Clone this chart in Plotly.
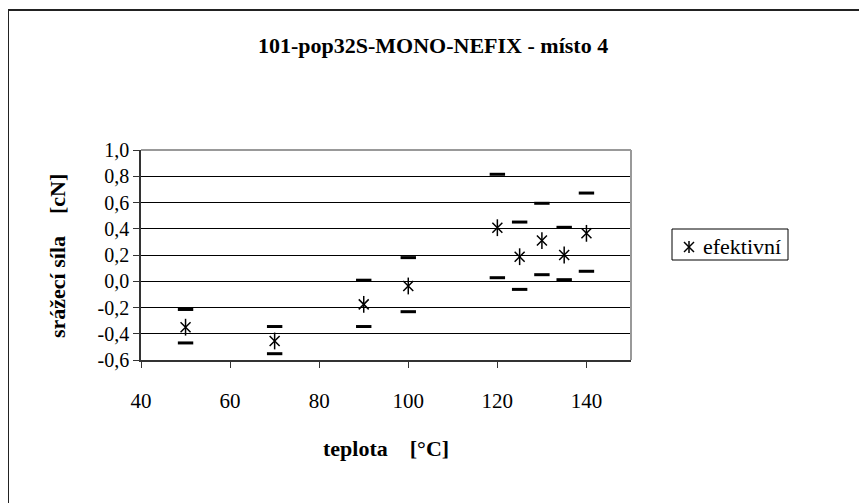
import plotly.graph_objects as go

# data
teplota = [50, 70, 90, 100, 120, 125, 130, 135, 140]
efektivni = [-0.35, -0.455, -0.176, -0.036, 0.408, 0.187, 0.31, 0.20, 0.365]
horni = [-0.215, -0.345, 0.008, 0.18, 0.815, 0.451, 0.594, 0.411, 0.672]
dolni = [-0.47, -0.552, -0.345, -0.232, 0.027, -0.062, 0.05, 0.012, 0.076]

x_ticks = [40, 60, 80, 100, 120, 140]
y_ticks = [-0.6, -0.4, -0.2, 0.0, 0.2, 0.4, 0.6, 0.8, 1.0]
y_ticklabels = ["-0,6", "-0,4", "-0,2", "0,0", "0,2", "0,4", "0,6", "0,8", "1,0"]

title_text = "101-pop32S-MONO-NEFIX - místo 4"
x_title = "teplota&nbsp;&nbsp;&nbsp;&nbsp;[°C]"
y_title = "srážecí síla&nbsp;&nbsp;&nbsp;&nbsp;[cN]"
legend_text = "efektivní"

W, H = 867, 503
OFF = 8  # page body margin
L, R, T, B = 141, 631, 150, 360  # plot area in screen pixels

def px(xp):
    return (xp - L) / (R - L)

def py(yp):
    return (B - yp) / (B - T)

serif = "Liberation Serif"

fig = go.Figure()
fig.add_trace(go.Scatter(x=teplota, y=horni, mode="markers", showlegend=False,
                         marker=dict(symbol="line-ew-open", size=11, color="black",
                                     line=dict(color="black", width=3))))
fig.add_trace(go.Scatter(x=teplota, y=dolni, mode="markers", showlegend=False,
                         marker=dict(symbol="line-ew-open", size=11, color="black",
                                     line=dict(color="black", width=3))))
fig.add_trace(go.Scatter(x=teplota, y=efektivni, mode="markers", showlegend=False,
                         marker=dict(symbol="line-ns-open", size=12, color="black",
                                     line=dict(color="black", width=1.5))))
fig.add_trace(go.Scatter(x=teplota, y=efektivni, mode="markers", name=legend_text, showlegend=False,
                         marker=dict(symbol="x-thin-open", size=10, color="black",
                                     line=dict(color="black", width=1.5))))

def pl(x0, y0, x1, y1, color="black", width=1.5):
    return dict(type="line", xref="paper", yref="paper", x0=px(x0), x1=px(x1), y0=py(y0), y1=py(y1),
                line=dict(color=color, width=width))

lx, ly = 689, 247
shapes = [
    # outer chart border (left and top, extends off canvas)
    pl(8, 10, 8, 520, "#222", 2),
    pl(8, 10, 880, 10, "#222", 2),
    # plot area border top/right (gray)
    dict(type="line", xref="paper", yref="paper", x0=0, x1=1, y0=1, y1=1, line=dict(color="#999", width=2)),
    dict(type="line", xref="paper", yref="paper", x0=1, x1=1, y0=0, y1=1, line=dict(color="#999", width=2)),
    # legend box
    dict(type="rect", xref="paper", yref="paper", x0=px(672), x1=px(788), y0=py(229), y1=py(260),
         line=dict(color="black", width=1), fillcolor="white", layer="above"),
    # legend asterisk
    pl(lx - 5, ly - 5, lx + 5, ly + 5, "black", 1.5),
    pl(lx - 5, ly + 5, lx + 5, ly - 5, "black", 1.5),
    pl(lx, ly - 6, lx, ly + 6, "black", 1.5),
]

annotations = [
    dict(text="<b>" + title_text + "</b>", xref="paper", yref="paper", x=px(433), y=py(45),
         showarrow=False, font=dict(family=serif, size=22, color="black"), xanchor="center", yanchor="middle"),
    dict(text="<b>" + x_title + "</b>", xref="paper", yref="paper", x=px(386), y=py(448),
         showarrow=False, font=dict(family=serif, size=22, color="black"), xanchor="center", yanchor="middle"),
    dict(text="<b>" + y_title + "</b>", xref="paper", yref="paper", x=px(57), y=py(256),
         showarrow=False, textangle=-90, font=dict(family=serif, size=22, color="black"),
         xanchor="center", yanchor="middle"),
    dict(text=legend_text, xref="paper", yref="paper", x=px(701), y=py(246),
         showarrow=False, font=dict(family=serif, size=22, color="black"), xanchor="left", yanchor="middle"),
]

fig.update_layout(
    width=W, height=H,
    margin=dict(l=L - OFF, r=W - (R - OFF), t=T - OFF, b=H - (B - OFF), pad=0),
    paper_bgcolor="white", plot_bgcolor="white",
    showlegend=False,
    shapes=shapes,
    annotations=annotations,
    font=dict(family=serif, size=20, color="black"),
)
fig.update_xaxes(range=[40, 150], tickvals=x_ticks, ticks="outside", ticklen=6, tickcolor="#333",
                 showline=True, linecolor="#333", linewidth=1.5, showgrid=False, zeroline=False,
                 ticklabelstandoff=15,
                 tickfont=dict(family=serif, size=21, color="black"), fixedrange=True)
fig.update_yaxes(range=[-0.6, 1.0], tickvals=y_ticks, ticktext=y_ticklabels, ticks="outside", ticklen=6,
                 tickcolor="#333", showline=True, linecolor="#333", linewidth=1.5,
                 showgrid=True, gridcolor="black", gridwidth=1, zeroline=False,
                 tickfont=dict(family=serif, size=20, color="black"), fixedrange=True)

fig.write_html("out.html")
